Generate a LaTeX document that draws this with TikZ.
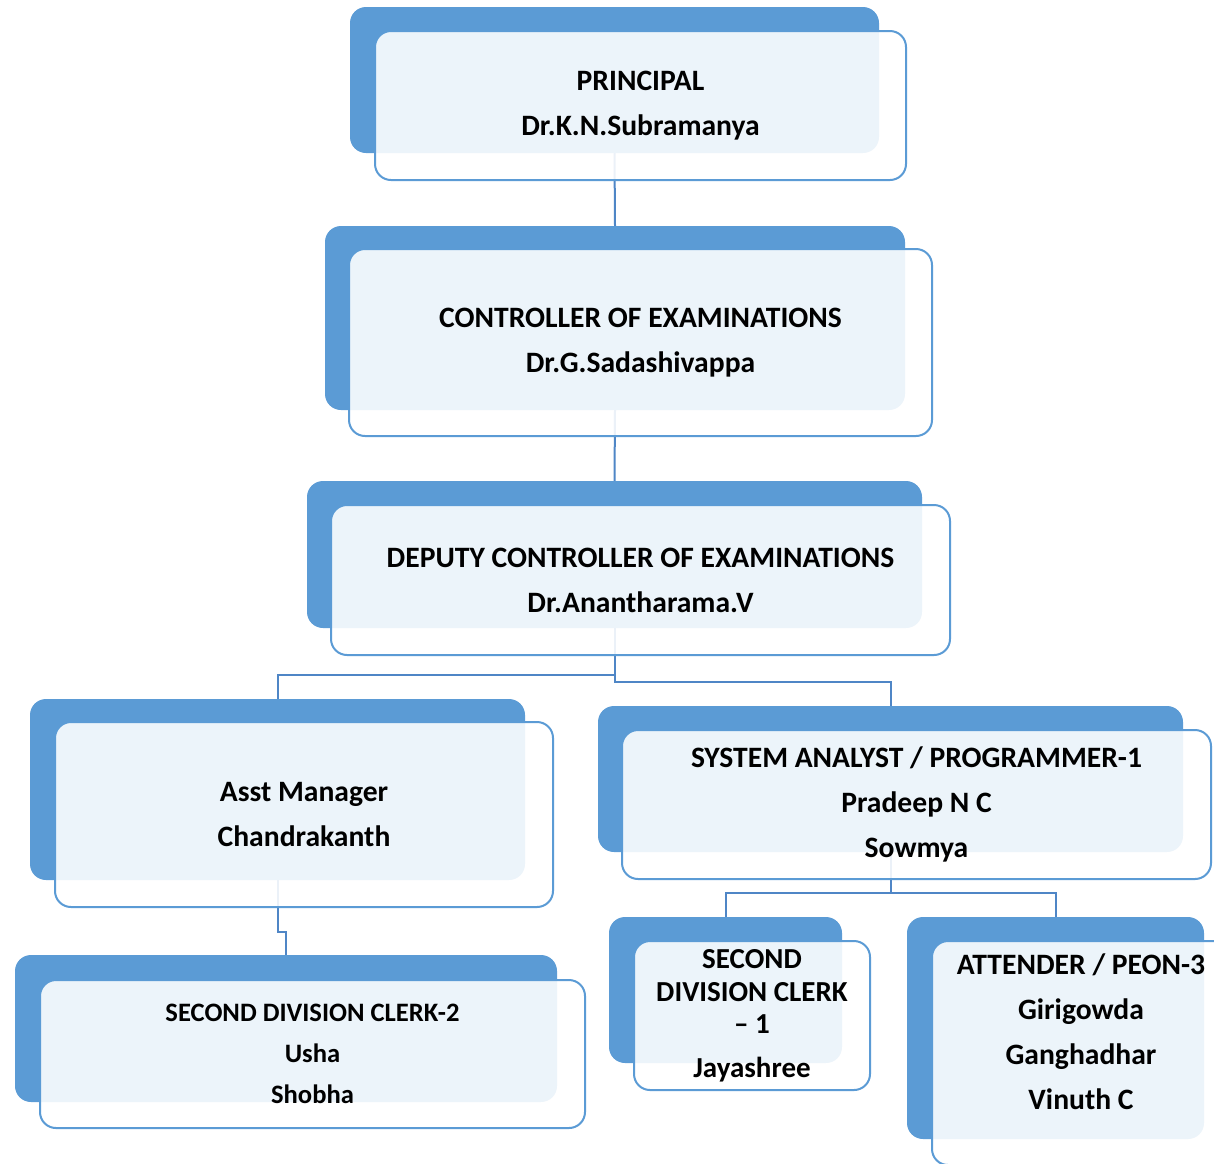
\documentclass[tikz,border=0pt]{standalone}
\usepackage{fontspec}
\setmainfont{Carlito}
\usetikzlibrary{backgrounds}

\definecolor{chartblue}{HTML}{5B9BD5}
\definecolor{linkblue}{HTML}{4F86C6}

\tikzset{
  backbox/.style={fill=chartblue, rounded corners=16pt, anchor=north west,
    inner sep=0pt, outer sep=0pt},
  frontbox/.style={draw=chartblue, line width=2pt, fill=white, fill opacity=0.89,
    text opacity=1, rounded corners=16pt, anchor=north west, inner sep=0pt,
    outer sep=0pt, align=center, font=\bfseries\fontsize{29.6}{45}\selectfont},
  link/.style={draw=linkblue, line width=2pt},
}

\begin{document}
\begin{tikzpicture}[x=1pt, y=-1pt]
\useasboundingbox (0,0) rectangle (1214,1163);
\clip (0,0) rectangle (1214,1163);

% principal
\node[backbox, minimum width=529pt, minimum height=146pt] (prin-b) at (350,7) {};
\node[frontbox, minimum width=531pt, minimum height=149pt] (prin) at (375,31)
  {PRINCIPAL\\Dr.K.N.Subramanya};

% controller
\node[backbox, minimum width=580pt, minimum height=184pt] (ctrl-b) at (325,226) {};
\node[frontbox, minimum width=583pt, minimum height=187pt] (ctrl) at (349,249)
  {CONTROLLER OF EXAMINATIONS\\Dr.G.Sadashivappa};

% deputy controller
\node[backbox, minimum width=615pt, minimum height=147pt] (dep-b) at (307,481) {};
\node[frontbox, minimum width=619pt, minimum height=150pt] (dep) at (331,505)
  {DEPUTY CONTROLLER OF EXAMINATIONS\\Dr.Anantharama.V};

% asst manager
\node[backbox, minimum width=495pt, minimum height=181pt] (asst-b) at (30,699) {};
\node[frontbox, minimum width=498pt, minimum height=185pt] (asst) at (55,722)
  {Asst Manager\\Chandrakanth};

% system analyst
\node[backbox, minimum width=585pt, minimum height=146pt] (sys-b) at (598,706) {};
\node[frontbox, minimum width=589pt, minimum height=149pt] (sys) at (622,730)
  {SYSTEM ANALYST / PROGRAMMER-1\\Pradeep N C\\Sowmya};

% second division clerk 2
\node[backbox, minimum width=542pt, minimum height=147pt] (sdc2-b) at (15,955) {};
\node[frontbox, minimum width=545pt, minimum height=148pt,
  font=\bfseries\fontsize{26.6}{41}\selectfont] (sdc2) at (40,980)
  {SECOND DIVISION CLERK-2\\Usha\\Shobha};

% second division clerk 1
\node[backbox, minimum width=233pt, minimum height=146pt] (sdc1-b) at (609,917) {};
\node[frontbox, minimum width=236pt, minimum height=149pt,
  font=\bfseries\fontsize{29}{32.5}\selectfont] (sdc1) at (634,941)
  {SECOND\\DIVISION CLERK\\– 1\\[11pt]Jayashree};

% attender
\node[backbox, minimum width=297pt, minimum height=222pt] (att-b) at (907,917) {};
\node[frontbox, minimum width=298pt, minimum height=224pt] (att) at (932,941) {};
\node[font=\bfseries\fontsize{29.6}{45}\selectfont, align=center] (att-t) at (1081,1032)
  {ATTENDER / PEON-3\\Girigowda\\Ganghadhar\\Vinuth C};

\begin{scope}[on background layer]
\draw[link] (prin-b.south) -- (ctrl-b.north);
\draw[link] (ctrl-b.south) -- (dep-b.north);
\draw[link] (dep-b.south) -- ++(0,47) -| (asst-b.north);
\draw[link] (dep-b.south) -- ++(0,54) -| (sys-b.north);
\draw[link] (asst-b.south) -- ++(0,52) -| (sdc2-b.north);
\draw[link] (sys-b.south) -- ++(0,41) -| (sdc1-b.north);
\draw[link] (sys-b.south) -- ++(0,41) -| (att-b.north);
\end{scope}
\end{tikzpicture}
\end{document}
